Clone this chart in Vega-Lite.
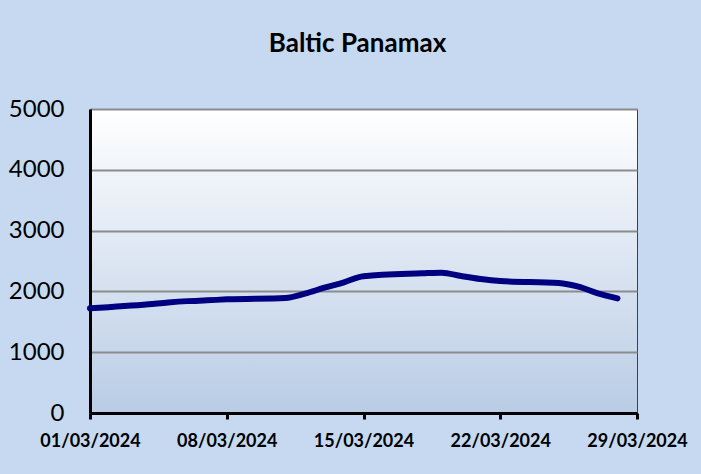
{
  "$schema": "https://vega.github.io/schema/vega-lite/v6.json",
  "width": 547,
  "height": 304,
  "autosize": {"type": "none"},
  "padding": {"left": 90, "top": 109, "right": 64, "bottom": 61},
  "background": "#c6d9f0",
  "title": {"text": "Baltic Panamax", "font": "Lato", "fontSize": 26, "fontWeight": "bold", "color": "#000000", "offset": 40, "anchor": "middle", "dx": -6},
  "config": {
    "view": {
      "stroke": "#404040",
      "strokeWidth": 1,
      "fill": {"gradient": "linear", "x1": 0, "y1": 0, "x2": 0, "y2": 1, "stops": [{"offset": 0, "color": "#ffffff"}, {"offset": 1, "color": "#b9cce5"}]}
    }
  },
  "data": {"values": [
    {"date": "2024-03-01", "value": 1722},
    {"date": "2024-03-04", "value": 1788},
    {"date": "2024-03-05", "value": 1818},
    {"date": "2024-03-06", "value": 1840},
    {"date": "2024-03-07", "value": 1853},
    {"date": "2024-03-08", "value": 1869},
    {"date": "2024-03-11", "value": 1891},
    {"date": "2024-03-12", "value": 1962},
    {"date": "2024-03-13", "value": 2061},
    {"date": "2024-03-14", "value": 2150},
    {"date": "2024-03-15", "value": 2250},
    {"date": "2024-03-18", "value": 2297},
    {"date": "2024-03-19", "value": 2308},
    {"date": "2024-03-20", "value": 2253},
    {"date": "2024-03-21", "value": 2204},
    {"date": "2024-03-22", "value": 2171},
    {"date": "2024-03-25", "value": 2138},
    {"date": "2024-03-26", "value": 2077},
    {"date": "2024-03-27", "value": 1968},
    {"date": "2024-03-28", "value": 1886}
  ]},
  "mark": {"type": "line", "color": "#000080", "strokeWidth": 6, "interpolate": "monotone", "strokeCap": "round"},
  "encoding": {
    "x": {
      "field": "date", "type": "temporal",
      "scale": {"type": "utc", "domain": [{"year": 2024, "month": 3, "date": 1, "utc": true}, {"year": 2024, "month": 3, "date": 29, "utc": true}]},
      "axis": {
        "title": null,
        "values": [
          {"year": 2024, "month": 3, "date": 1, "utc": true},
          {"year": 2024, "month": 3, "date": 8, "utc": true},
          {"year": 2024, "month": 3, "date": 15, "utc": true},
          {"year": 2024, "month": 3, "date": 22, "utc": true},
          {"year": 2024, "month": 3, "date": 29, "utc": true}
        ],
        "labelExpr": "utcFormat(datum.value, '%d/%m/%Y')",
        "grid": false,
        "domainColor": "#000000", "domainWidth": 3,
        "ticks": true, "tickColor": "#000000", "tickWidth": 3, "tickSize": 6,
        "labelFont": "Lato", "labelFontSize": 18, "labelFontWeight": "bold", "labelColor": "#000000",
        "labelPadding": 13, "labelFlush": false, "labelOverlap": false
      }
    },
    "y": {
      "field": "value", "type": "quantitative",
      "scale": {"domain": [0, 5000], "nice": false},
      "axis": {
        "title": null,
        "values": [0, 1000, 2000, 3000, 4000, 5000],
        "format": "d",
        "grid": true, "gridColor": "#8c8c8c", "gridWidth": 2,
        "domainColor": "#000000", "domainWidth": 3,
        "ticks": false,
        "labelFont": "Lato", "labelFontSize": 24, "labelColor": "#000000",
        "labelPadding": 26, "labelFlush": false
      }
    }
  }
}
